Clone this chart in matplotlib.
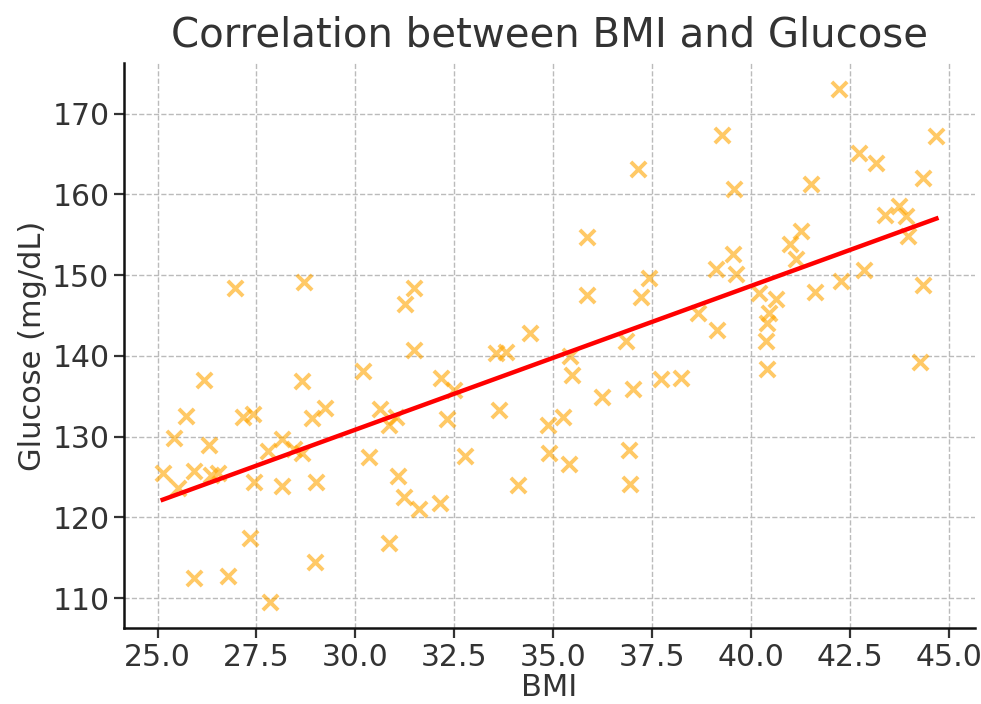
import numpy as np
import matplotlib
matplotlib.use('Agg')
import matplotlib.pyplot as plt

# BMI / glucose values
bmi = [26.96, 28.69, 26.18, 28.66, 30.18, 25.72, 27.16, 27.40, 28.91, 29.23,
       25.42, 26.29, 28.14, 27.78, 28.45, 28.66, 25.13, 25.93, 25.51, 26.35,
       26.52, 27.44, 28.14, 29.00, 30.34, 27.33, 28.98, 25.93, 26.77, 27.84,
       31.49, 31.24, 31.49, 32.15, 32.49, 33.54, 33.81, 34.42, 35.43, 35.47,
       35.85, 30.62, 31.02, 30.85, 32.32, 33.62, 34.86, 35.24, 32.76, 34.89,
       35.39, 31.07, 31.22, 31.60, 32.13, 34.11, 30.84, 37.14, 39.25, 39.56,
       35.85, 39.53, 39.11, 39.62, 37.43, 37.21, 40.20, 40.62, 38.66, 39.13,
       40.46, 40.39, 40.37, 40.41, 36.84, 36.23, 37.01, 37.72, 38.22, 36.92,
       36.94, 42.22, 44.68, 42.72, 43.15, 41.52, 44.34, 43.73, 43.37, 43.92,
       43.96, 41.27, 40.99, 41.13, 42.84, 42.26, 44.34, 41.61, 44.26]
glucose = [148.4, 149.1, 137.0, 136.9, 138.1, 132.6, 132.5, 132.8, 132.3, 133.5,
           129.8, 129.0, 129.7, 128.2, 128.5, 128.0, 125.5, 125.8, 123.7, 125.3,
           125.5, 124.4, 123.9, 124.4, 127.5, 117.4, 114.5, 112.5, 112.8, 109.5,
           148.4, 146.4, 140.8, 137.3, 135.8, 140.4, 140.5, 142.9, 140.0, 137.7,
           147.6, 133.4, 132.5, 131.5, 132.2, 133.3, 131.5, 132.4, 127.6, 128.0,
           126.6, 125.1, 122.5, 121.1, 121.8, 124.0, 116.8, 163.1, 167.4, 160.7,
           154.7, 152.6, 150.8, 150.2, 149.6, 147.3, 147.8, 147.0, 145.3, 143.2,
           145.3, 144.1, 141.8, 138.4, 141.9, 134.9, 135.9, 137.1, 137.3, 128.3,
           124.1, 173.1, 167.2, 165.1, 163.9, 161.3, 162.0, 158.6, 157.4, 157.3,
           154.8, 155.5, 153.9, 152.0, 150.7, 149.3, 148.8, 147.9, 139.3]

text_color = '#333333'

fig, ax = plt.subplots(figsize=(9.81, 7.04), dpi=100)
fig.subplots_adjust(left=0.1264, right=0.994, top=0.9105, bottom=0.108)

ax.scatter(bmi, glucose, marker='x', s=120, linewidths=2.8, color='orange', alpha=0.6)

# linear fit
m, b = np.polyfit(bmi, glucose, 1)
xs = np.array([min(bmi), max(bmi)])
ax.plot(xs, m * xs + b, color='red', linewidth=3.2)

ax.set_title('Correlation between BMI and Glucose', fontsize=29, color=text_color, pad=12)
ax.set_xlabel('BMI', fontsize=22, color=text_color, labelpad=1)
ax.set_ylabel('Glucose (mg/dL)', fontsize=22, color=text_color)

ax.grid(True, linestyle='--', color='#bbbbbb', linewidth=1)
ax.set_axisbelow(True)
for side in ['top', 'right']:
    ax.spines[side].set_visible(False)
for side in ['left', 'bottom']:
    ax.spines[side].set_linewidth(1.8)
    ax.spines[side].set_color('#111111')
ax.tick_params(labelsize=21.5, colors=text_color, length=7, width=1.6)
ax.set_xticks(np.arange(25, 45.1, 2.5))
ax.xaxis.set_major_formatter(matplotlib.ticker.FormatStrFormatter('%.1f'))

fig.savefig('out.png', dpi=100)
